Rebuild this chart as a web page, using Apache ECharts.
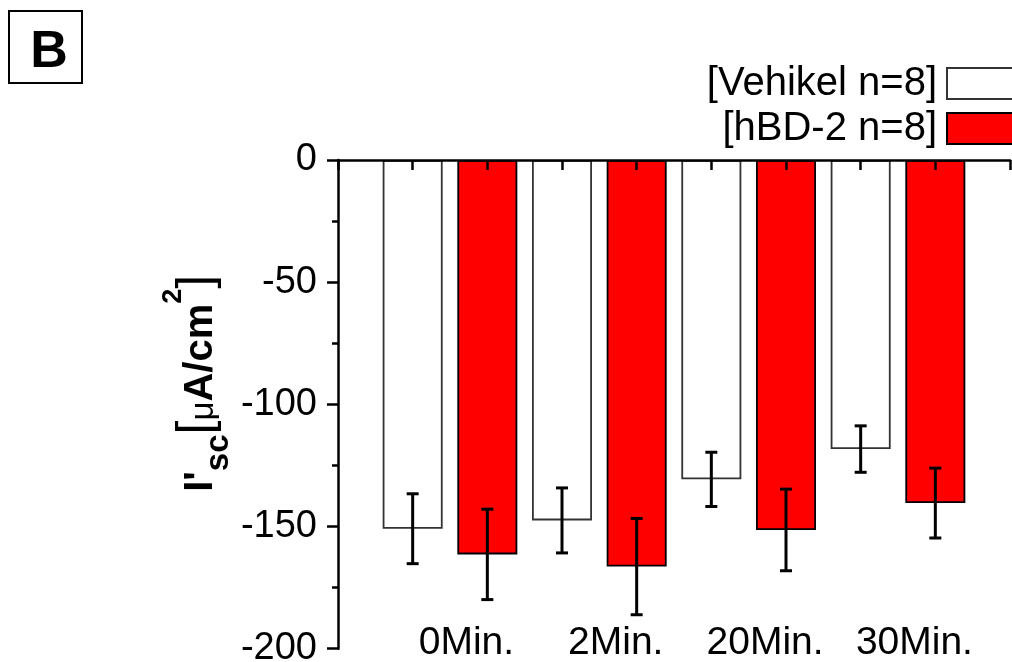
<!DOCTYPE html>
<html><head><meta charset="utf-8">
<script src="https://cdn.jsdelivr.net/npm/echarts@6/dist/echarts.min.js"></script>
<style>html,body{margin:0;padding:0;background:#fff}#c{width:1012px;height:662px}</style>
</head><body><div id="c"></div>
<script>
// ---- data ----
const categories = ['0Min.', '2Min.', '20Min.', '30Min.'];
const seriesNames = ['Vehikel n=8', 'hBD-2 n=8'];
const vehikel = [-150.9, -147.5, -130.7, -118.3];
const vehikelErr = [14.3, 13.3, 11.1, 9.5];
const hbd = [-161.4, -166.4, -151.4, -140.4];
const hbdErr = [18.5, 19.7, 16.7, 14.3];

// ---- layout / style ----
const FONT = '"Liberation Sans", Arial, sans-serif';
const LABEL_SHIFT = 0.22;
const xPos = (i, s) => 2 * i + 1 + s;          // group i, series s (0/1)
const bars = (vals, s) => vals.map((v, i) => [xPos(i, s), v]);
const errs = (vals, e, s) => vals.map((v, i) => [xPos(i, s), v, e[i]]);
const labelPos = categories.map((c, i) => 2 * i + 1.5 + LABEL_SHIFT);

function errRender(params, api) {
  const x = api.value(0), v = api.value(1), e = api.value(2);
  const t = api.coord([x, v + e]);
  const b = api.coord([x, v - e]);
  const hw = 6;
  const st = { stroke: '#000', lineWidth: 3 };
  return { type: 'group', children: [
    { type: 'line', shape: { x1: t[0], y1: t[1], x2: b[0], y2: b[1] }, style: st },
    { type: 'line', shape: { x1: t[0] - hw, y1: t[1], x2: t[0] + hw, y2: t[1] }, style: st },
    { type: 'line', shape: { x1: b[0] - hw, y1: b[1], x2: b[0] + hw, y2: b[1] }, style: st }
  ]};
}

const chart = echarts.init(document.getElementById('c'), null, { renderer: 'canvas' });
chart.setOption({
  backgroundColor: '#fff',
  animation: false,
  textStyle: { fontFamily: FONT, color: '#000' },
  grid: { left: 338, right: 2, top: 160, bottom: 13.3, containLabel: false, outerBoundsMode: 'none' },
  legend: {
    data: seriesNames,
    orient: 'vertical', right: -6, top: 63.5, align: 'right',
    icon: 'rect',
    itemWidth: 70, itemHeight: 31, itemGap: 5, padding: 0,
    selectedMode: false,
    formatter: n => '[' + n + ']',
    textStyle: { fontFamily: FONT, fontSize: 40, lineHeight: 38, color: '#000', padding: [0, 5, 0, 0] }
  },
  xAxis: [
    { type: 'value', min: 0, max: 9, interval: 1, position: 'top', z: 10,
      axisLine: { show: true, onZero: false, lineStyle: { color: '#000', width: 2.5 } },
      axisTick: { show: true, inside: true, length: 10, lineStyle: { color: '#000', width: 2.5 } },
      axisLabel: { show: false }, splitLine: { show: false } },
    { type: 'value', min: 0, max: 9, position: 'bottom',
      axisLine: { show: false, onZero: false }, axisTick: { show: false }, splitLine: { show: false },
      axisLabel: { show: true, customValues: labelPos, margin: -5, verticalAlign: 'middle',
        fontFamily: FONT, fontSize: 39, color: '#000',
        formatter: v => categories[Math.round((v - 1.5 - LABEL_SHIFT) / 2)] } }
  ],
  yAxis: {
    type: 'value', min: -200, max: 0, interval: 50, z: 10,
    axisLine: { show: true, lineStyle: { color: '#000', width: 2.5 } },
    axisTick: { show: true, inside: false, length: 11, lineStyle: { color: '#000', width: 2.5 } },
    minorTick: { show: true, splitNumber: 2, length: 6, lineStyle: { color: '#000', width: 2.5 } },
    splitLine: { show: false },
    axisLabel: { fontFamily: FONT, fontSize: 38, color: '#000', margin: 21 },
    name: '{m0|I\'}{s|sc}{b|[}{u|μ}{m|A/cm}{p|2}{b|]}',
    nameLocation: 'middle', nameRotate: 90, nameGap: 96, nameMoveOverlap: false,
    nameTextStyle: {
      fontFamily: FONT, color: '#000',
      rich: {
        m0: { fontFamily: FONT, fontSize: 40, fontWeight: 'bold', color: '#000', padding: [0, 0, 0, 42] },
        m: { fontFamily: FONT, fontSize: 40, fontWeight: 'bold', color: '#000' },
        s: { fontFamily: FONT, fontSize: 33, fontWeight: 'bold', color: '#000', padding: [35, 0, 0, 0] },
        b: { fontFamily: FONT, fontSize: 50, fontWeight: 'normal', color: '#000', padding: [0, 0, 7, 0] },
        u: { fontFamily: FONT, fontSize: 33, fontWeight: 'normal', color: '#000', padding: [6, 0, 0, 0] },
        p: { fontFamily: FONT, fontSize: 27, fontWeight: 'bold', color: '#000', padding: [0, 0, 55, 0] }
      }
    }
  },
  graphic: [
    { type: 'rect', shape: { x: 9, y: 11, width: 73, height: 72 }, style: { fill: '#fff', stroke: '#000', lineWidth: 2 } },
    { type: 'text', x: 49, y: 53, style: { text: 'B', font: 'bold 52px ' + FONT, fill: '#000', align: 'center', verticalAlign: 'middle' } }
  ],
  series: [
    { name: seriesNames[0], type: 'bar', xAxisIndex: 0, data: bars(vehikel, 0),
      barWidth: 60, barGap: '-100%',
      itemStyle: { color: '#fff', borderColor: '#333', borderWidth: 1.8 } },
    { name: seriesNames[1], type: 'bar', xAxisIndex: 0, data: bars(hbd, 1),
      barWidth: 60, barGap: '-100%',
      itemStyle: { color: '#ff0000', borderColor: '#000', borderWidth: 1.8 } },
    { type: 'custom', xAxisIndex: 0, z: 5, renderItem: errRender, data: errs(vehikel, vehikelErr, 0), encode: { x: 0, y: 1 } },
    { type: 'custom', xAxisIndex: 0, z: 5, renderItem: errRender, data: errs(hbd, hbdErr, 1), encode: { x: 0, y: 1 } }
  ]
});
</script></body></html>
